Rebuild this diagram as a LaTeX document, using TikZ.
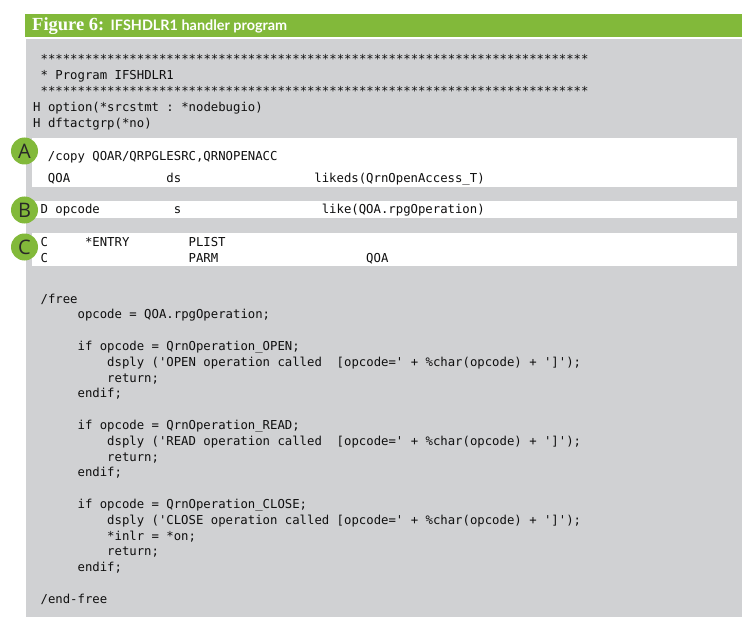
\documentclass[tikz,border=0pt]{standalone}
\usepackage{fontspec}
\usepackage{xcolor}
\usepackage{tikz}
\usetikzlibrary{positioning}

\setmonofont{DejaVu Sans Mono}
\newfontfamily\figserif{Liberation Serif}
\newfontfamily\figsans{Lato}
\newfontfamily\badgesans{Open Sans}

\definecolor{barGreen}{RGB}{130,185,58}
\definecolor{panelGray}{RGB}{208,209,211}
\definecolor{codeInk}{RGB}{15,15,15}
\definecolor{badgeInk}{RGB}{40,40,40}

\tikzset{
  code/.style={anchor=base west,inner sep=0pt,text=codeInk,
    font=\ttfamily\fontsize{12.3bp}{15.8bp}\selectfont},
  band/.style={fill=white,draw=none},
  badge/.style={circle,fill=barGreen,minimum size=27bp,inner sep=0pt,
    text=badgeInk,font=\badgesans\fontsize{20bp}{20bp}\selectfont},
  caption/.style={anchor=base west,inner sep=0pt,text=white},
}

\begin{document}
\begin{tikzpicture}[x=1bp,y=-1bp]
    \useasboundingbox (0,0) rectangle (754,628);

    % title bar and panel
    \fill[barGreen] (25,14) rectangle (742,37);
    \fill[panelGray] (26,39) rectangle (742,617);
    \node[caption,font=\figserif\bfseries\fontsize{18.5bp}{20bp}\selectfont] (figlbl) at (32,31) {Figure 6:};
    \node[caption,font=\figsans\bfseries\fontsize{14.4bp}{16bp}\selectfont] (figcap) at ([xshift=6bp]figlbl.base east) {IFSHDLR1 handler program};

    % highlighted bands
    \fill[band] (32,138) rectangle (737,187);
    \fill[band] (32,201) rectangle (737,218);
    \fill[band] (32,233) rectangle (737,266);

    % header
    \node[code] (stars1) at (40.4,64) {**************************************************************************};
    \node[code] (prog) at (40.4,80) {* Program IFSHDLR1};
    \node[code] (stars2) at (40.4,96) {**************************************************************************};
    \node[code] (hopt) at (33,112) {H option(*srcstmt : *nodebugio)};
    \node[code] (hdft) at (33,128) {H dftactgrp(*no)};

    % A
    \node[code] (copy) at (47.8,161) {/copy QOAR/QRPGLESRC,QRNOPENACC};
    \node[code] (qoa) at (47.8,183) {QOA};
    \node[code] (qoads) at (166.2,183) {ds};
    \node[code] (qoalike) at (314.2,183) {likeds(QrnOpenAccess\_T)};

    % B
    \node[code] (dop) at (40.4,214) {D opcode};
    \node[code] (dops) at (173.6,214) {s};
    \node[code] (doplike) at (321.6,214) {like(QOA.rpgOperation)};

    % C
    \node[code] (centry) at (40.4,246) {C};
    \node[code] (centryf) at (84.8,246) {*ENTRY};
    \node[code] (cplist) at (188.4,246) {PLIST};
    \node[code] (cparm) at (40.4,262) {C};
    \node[code] (cparmop) at (188.4,262) {PARM};
    \node[code] (cparmqoa) at (366,262) {QOA};

    % free-form part
    \node[code] (fr0) at (40.4,303) {/free};
    \node[code] (fr1) at (77.4,318.8) {opcode = QOA.rpgOperation;};
    \node[code] (fr3) at (77.4,350.4) {if opcode = QrnOperation\_OPEN;};
    \node[code] (fr4) at (107,366.2) {dsply ('OPEN operation called\ \ [opcode=' + \%char(opcode) + ']');};
    \node[code] (fr5) at (107,382) {return;};
    \node[code] (fr6) at (77.4,397.8) {endif;};
    \node[code] (fr8) at (77.4,429.4) {if opcode = QrnOperation\_READ;};
    \node[code] (fr9) at (107,445.2) {dsply ('READ operation called\ \ [opcode=' + \%char(opcode) + ']');};
    \node[code] (fr10) at (107,461) {return;};
    \node[code] (fr11) at (77.4,476.8) {endif;};
    \node[code] (fr13) at (77.4,508.4) {if opcode = QrnOperation\_CLOSE;};
    \node[code] (fr14) at (107,524.2) {dsply ('CLOSE operation called [opcode=' + \%char(opcode) + ']');};
    \node[code] (fr15) at (107,540) {*inlr = *on;};
    \node[code] (fr16) at (107,555.8) {return;};
    \node[code] (fr17) at (77.4,571.6) {endif;};
    \node[code] (fr19) at (40.4,603.2) {/end-free};

    % markers
    \node[badge] (mA) at (24.5,151) {A};
    \node[badge] (mB) at (24.5,210) {B};
    \node[badge] (mC) at (24.5,247) {C};
\end{tikzpicture}
\end{document}
